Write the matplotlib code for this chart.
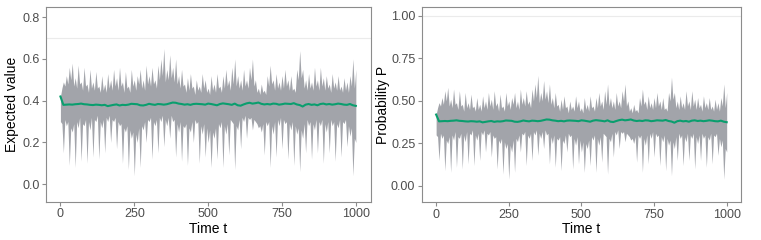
import numpy as np
import matplotlib
matplotlib.use("Agg")
import matplotlib.pyplot as plt

plt.rcParams['font.family'] = ['Liberation Sans', 'DejaVu Sans']

# Band time axis (sampled every 5 steps) and mean-line time axis (every 10 steps)
band_t = list(range(0, 1001, 5))
mean_t = list(range(0, 1001, 10))

band_upper = [
    0.42, 0.46, 0.49, 0.47, 0.52, 0.48, 0.56, 0.50, 0.58, 0.47, 0.51, 0.46, 0.57, 0.48, 0.49, 0.45, 0.56, 0.47, 0.48, 0.44,
    0.55, 0.46, 0.49, 0.45, 0.54, 0.46, 0.47, 0.44, 0.52, 0.45, 0.48, 0.44, 0.53, 0.46, 0.50, 0.45, 0.55, 0.47, 0.51, 0.45,
    0.56, 0.47, 0.49, 0.44, 0.54, 0.46, 0.47, 0.44, 0.55, 0.47, 0.50, 0.45, 0.52, 0.48, 0.55, 0.46, 0.50, 0.45, 0.57, 0.48,
    0.52, 0.47, 0.56, 0.48, 0.50, 0.46, 0.57, 0.50, 0.60, 0.52, 0.65, 0.49, 0.55, 0.50, 0.62, 0.51, 0.56, 0.49, 0.60, 0.48,
    0.52, 0.46, 0.55, 0.47, 0.48, 0.44, 0.51, 0.45, 0.53, 0.46, 0.47, 0.43, 0.50, 0.45, 0.47, 0.44, 0.53, 0.46, 0.50, 0.44,
    0.46, 0.43, 0.52, 0.45, 0.48, 0.44, 0.53, 0.46, 0.47, 0.44, 0.52, 0.46, 0.55, 0.47, 0.50, 0.45, 0.56, 0.48, 0.60, 0.47,
    0.52, 0.46, 0.50, 0.45, 0.55, 0.47, 0.50, 0.46, 0.56, 0.50, 0.60, 0.47, 0.50, 0.44, 0.46, 0.43, 0.48, 0.44, 0.45, 0.43,
    0.52, 0.47, 0.57, 0.48, 0.50, 0.45, 0.53, 0.46, 0.49, 0.45, 0.52, 0.46, 0.55, 0.47, 0.50, 0.45, 0.52, 0.45, 0.46, 0.44,
    0.55, 0.50, 0.64, 0.51, 0.55, 0.46, 0.50, 0.45, 0.53, 0.46, 0.49, 0.45, 0.56, 0.47, 0.50, 0.45, 0.56, 0.47, 0.51, 0.45,
    0.52, 0.46, 0.48, 0.44, 0.53, 0.46, 0.49, 0.45, 0.52, 0.45, 0.47, 0.44, 0.51, 0.45, 0.49, 0.44, 0.52, 0.47, 0.60, 0.46,
    0.55,
]

band_lower = [
    0.30, 0.29, 0.15, 0.31, 0.28, 0.30, 0.09, 0.27, 0.25, 0.29, 0.08, 0.30, 0.27, 0.32, 0.11, 0.29, 0.28, 0.31, 0.10, 0.30,
    0.26, 0.32, 0.13, 0.31, 0.30, 0.33, 0.12, 0.30, 0.27, 0.31, 0.15, 0.32, 0.30, 0.33, 0.20, 0.31, 0.30, 0.32, 0.17, 0.30,
    0.28, 0.29, 0.10, 0.27, 0.25, 0.28, 0.07, 0.26, 0.22, 0.25, 0.04, 0.24, 0.20, 0.27, 0.08, 0.28, 0.26, 0.30, 0.20, 0.31,
    0.30, 0.32, 0.12, 0.30, 0.28, 0.31, 0.15, 0.32, 0.30, 0.33, 0.18, 0.31, 0.28, 0.32, 0.22, 0.33, 0.30, 0.31, 0.13, 0.29,
    0.25, 0.30, 0.11, 0.28, 0.27, 0.29, 0.09, 0.27, 0.25, 0.30, 0.20, 0.31, 0.29, 0.30, 0.10, 0.28, 0.24, 0.29, 0.13, 0.27,
    0.20, 0.26, 0.08, 0.25, 0.22, 0.27, 0.12, 0.29, 0.27, 0.30, 0.08, 0.28, 0.24, 0.29, 0.14, 0.31, 0.30, 0.29, 0.07, 0.28,
    0.26, 0.31, 0.17, 0.32, 0.30, 0.33, 0.22, 0.32, 0.31, 0.32, 0.26, 0.31, 0.30, 0.29, 0.27, 0.28, 0.25, 0.29, 0.14, 0.30,
    0.28, 0.30, 0.08, 0.28, 0.24, 0.30, 0.13, 0.31, 0.28, 0.32, 0.17, 0.31, 0.29, 0.30, 0.12, 0.29, 0.26, 0.30, 0.09, 0.28,
    0.24, 0.27, 0.06, 0.26, 0.22, 0.29, 0.15, 0.31, 0.28, 0.30, 0.12, 0.29, 0.26, 0.31, 0.15, 0.30, 0.28, 0.31, 0.10, 0.29,
    0.25, 0.30, 0.15, 0.31, 0.28, 0.30, 0.11, 0.29, 0.27, 0.31, 0.13, 0.30, 0.29, 0.31, 0.18, 0.28, 0.23, 0.27, 0.04, 0.22,
    0.20,
]

mean_line = [
    0.420, 0.380, 0.381, 0.382, 0.381, 0.383, 0.384, 0.386, 0.383, 0.382,
    0.380, 0.379, 0.381, 0.380, 0.378, 0.380, 0.374, 0.377, 0.380, 0.382,
    0.377, 0.380, 0.379, 0.381, 0.385, 0.384, 0.383, 0.378, 0.377, 0.380,
    0.385, 0.382, 0.380, 0.384, 0.383, 0.381, 0.383, 0.387, 0.391, 0.390,
    0.386, 0.384, 0.381, 0.383, 0.380, 0.384, 0.385, 0.384, 0.383, 0.381,
    0.386, 0.384, 0.381, 0.378, 0.384, 0.387, 0.385, 0.383, 0.380, 0.386,
    0.378, 0.376, 0.382, 0.387, 0.390, 0.386, 0.388, 0.391, 0.385, 0.382,
    0.384, 0.382, 0.386, 0.385, 0.381, 0.383, 0.386, 0.385, 0.384, 0.388,
    0.382, 0.379, 0.372, 0.381, 0.384, 0.380, 0.382, 0.378, 0.384, 0.386,
    0.382, 0.384, 0.381, 0.383, 0.386, 0.384, 0.381, 0.380, 0.384, 0.378,
    0.375,
]

x_ticks = [0, 250, 500, 750, 1000]
left_yticks = [0.0, 0.2, 0.4, 0.6, 0.8]
left_ylabels = ["0.0", "0.2", "0.4", "0.6", "0.8"]
right_yticks = [0.0, 0.25, 0.5, 0.75, 1.0]
right_ylabels = ["0.00", "0.25", "0.50", "0.75", "1.00"]

BAND = "#a2a4aa"
GREEN = "#0a9e6e"
FRAME = "#8c8c8c"
TICKTXT = "#4d4d4d"

fig = plt.figure(figsize=(7.61, 2.40), dpi=100)
ax1 = fig.add_axes([0.060, 0.158, 0.427, 0.812])
ax2 = fig.add_axes([0.554, 0.157, 0.420, 0.813])

panels = [
    (ax1, left_yticks, left_ylabels, (-0.086, 0.848), 0.7, "Expected value", -0.082),
    (ax2, right_yticks, right_ylabels, (-0.096, 1.051), 1.0, "Probability P", -0.100),
]

for ax, yt, yl, ylim, hl, ylab, lx in panels:
    ax.axhline(hl, color="#ebebeb", lw=0.8, zorder=0)
    ax.fill_between(band_t, band_lower, band_upper, color=BAND, lw=0, zorder=1)
    ax.plot(mean_t, mean_line, color=GREEN, lw=1.5, zorder=2)
    ax.set_xlim(-50, 1050)
    ax.set_ylim(*ylim)
    ax.set_xticks(x_ticks)
    ax.set_xticklabels([str(v) for v in x_ticks])
    ax.set_yticks(yt)
    ax.set_yticklabels(yl)
    for s in ax.spines.values():
        s.set_color(FRAME)
        s.set_linewidth(0.8)
    ax.tick_params(axis="both", colors=FRAME, labelcolor=TICKTXT, labelsize=9,
                   length=3, width=0.8, pad=1.5)
    ax.set_xlabel("Time t", fontsize=10, color="black", labelpad=1)
    ax.set_ylabel(ylab, fontsize=10, color="black")
    ax.yaxis.set_label_coords(lx, 0.5)

fig.savefig("out.png", dpi=100)
